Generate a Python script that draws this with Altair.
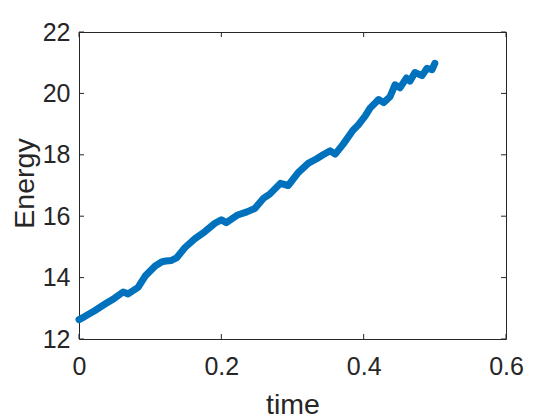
import altair as alt
import pandas as pd

# Data
time = [0.000, 0.008, 0.022, 0.036, 0.050, 0.062, 0.069, 0.083, 0.093, 0.107,
        0.116, 0.122, 0.130, 0.137, 0.149, 0.163, 0.177, 0.191, 0.200, 0.207,
        0.222, 0.236, 0.247, 0.259, 0.268, 0.283, 0.294, 0.308, 0.322, 0.334,
        0.343, 0.353, 0.360, 0.371, 0.385, 0.392, 0.402, 0.409, 0.421, 0.428,
        0.437, 0.444, 0.451, 0.460, 0.465, 0.472, 0.482, 0.489, 0.496, 0.500]
energy = [12.63, 12.73, 12.92, 13.13, 13.33, 13.53, 13.47, 13.68, 14.05, 14.38,
          14.51, 14.54, 14.56, 14.64, 14.98, 15.27, 15.50, 15.77, 15.88, 15.79,
          16.03, 16.14, 16.25, 16.58, 16.72, 17.07, 17.00, 17.42, 17.72, 17.87,
          18.00, 18.13, 18.02, 18.34, 18.80, 18.96, 19.26, 19.52, 19.80, 19.70,
          19.89, 20.28, 20.18, 20.50, 20.40, 20.68, 20.58, 20.82, 20.77, 20.98]
x_ticks = [0, 0.2, 0.4, 0.6]
y_ticks = [12, 14, 16, 18, 20, 22]

W, H = 427, 307
INK = "#262626"
FONT = "Liberation Sans"

df = pd.DataFrame({"t": time, "E": energy})
xt = pd.DataFrame({"t": x_ticks})
yt = pd.DataFrame({"E": y_ticks})

xscale = alt.Scale(domain=[0, 0.6], nice=False, zero=False)
yscale = alt.Scale(domain=[12, 22], nice=False, zero=False)

xaxis = alt.Axis(title="time", values=x_ticks, format=".1~f", labelPadding=15,
                 labelFlush=False,
                 titleX=W / 2, titleY=74, titleBaseline="alphabetic",
                 titleAlign="center")
yaxis = alt.Axis(title="Energy", values=y_ticks, labelPadding=9,
                 labelFlush=False,
                 titleX=-46, titleY=151, titleAngle=270,
                 titleBaseline="alphabetic", titleAlign="center")

X = alt.X("t:Q", scale=xscale, axis=xaxis)
Y = alt.Y("E:Q", scale=yscale, axis=yaxis)

line = alt.Chart(df).mark_line(
    color="#0072BD", strokeWidth=7, strokeCap="round", strokeJoin="round"
).encode(x=X, y=Y)

tb = alt.Chart(xt).mark_rule(color=INK, strokeWidth=1).encode(
    x=X, y=alt.value(H), y2=alt.value(H - 5))
tt = alt.Chart(xt).mark_rule(color=INK, strokeWidth=1).encode(
    x=X, y=alt.value(0), y2=alt.value(5))
tl = alt.Chart(yt).mark_rule(color=INK, strokeWidth=1).encode(
    y=Y, x=alt.value(0), x2=alt.value(5))
tr = alt.Chart(yt).mark_rule(color=INK, strokeWidth=1).encode(
    y=Y, x=alt.value(W), x2=alt.value(W - 5))

chart = alt.layer(line, tb, tt, tl, tr).properties(
    width=W, height=H,
    autosize=alt.AutoSizeParams(type="none"),
    padding={"left": 71, "top": 24, "right": 30, "bottom": 82},
).configure_view(
    stroke=INK, strokeWidth=1
).configure_axis(
    grid=False, domain=False, ticks=False, tickSize=0,
    labelFont=FONT, labelFontSize=25, labelColor=INK,
    titleFont=FONT, titleFontSize=28.5, titleFontWeight="normal", titleColor=INK,
)

chart.save("out.html", embed_options={"renderer": "svg", "actions": False})
